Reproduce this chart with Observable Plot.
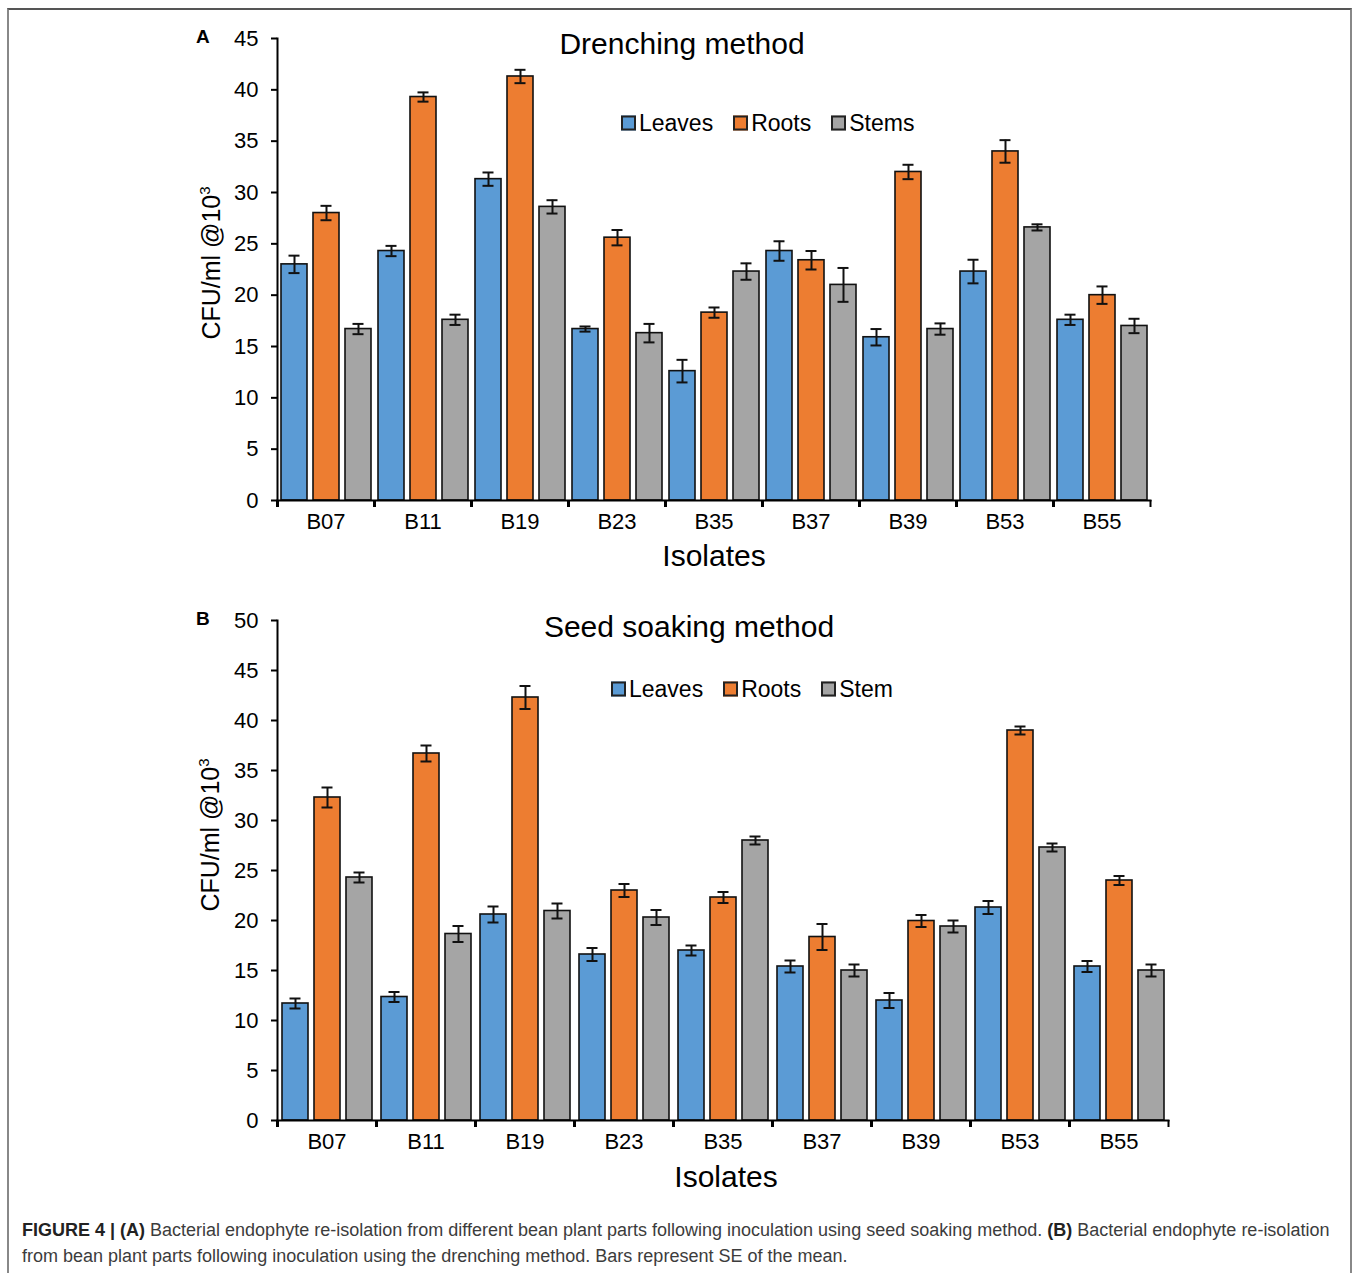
<!DOCTYPE html>
<html>
<head>
<meta charset="utf-8">
<script src="https://cdn.jsdelivr.net/npm/d3@7"></script>
<script src="https://cdn.jsdelivr.net/npm/@observablehq/plot@0.6"></script>
<style>
  html, body { margin: 0; padding: 0; background: #fff; }
  body { position: relative; width: 1357px; height: 1273px; overflow: hidden; font-family: "Liberation Sans", Arial, sans-serif; color: #000; }
  .abs { position: absolute; white-space: nowrap; }
  .c { transform: translate(-50%, -50%); }
  .frame { position: absolute; left: 7px; top: 8px; width: 1341px; height: 1290px; border-top: 2px solid #555; border-left: 2px solid #888; border-right: 2px solid #888; }
  .title { font-size: 30px; }
  .xlab { font-size: 30px; }
  .ylab { font-size: 25px; transform: translate(-50%, -50%) rotate(-90deg); }
  .ylab sup { font-size: 15px; vertical-align: 10px; line-height: 0; }
  .panel { font-size: 19px; font-weight: bold; }
  .legend { display: flex; align-items: center; gap: 20px; font-size: 23px; transform: translateY(-50%); }
  .legend .it { display: flex; align-items: center; }
  .legend .sw { display: inline-block; width: 11px; height: 11px; border: 2px solid #222; margin-right: 3px; }
  .caption { left: 22px; top: 1217px; font-size: 18px; line-height: 26px; color: #3c3c3c; }
  .caption b { color: #222; }
</style>
</head>
<body>
<div class="frame"></div>
<script>
// ---------- data ----------
const isolates = ["B07", "B11", "B19", "B23", "B35", "B37", "B39", "B53", "B55"];
const partsA = ["Leaves", "Roots", "Stems"];
const partsB = ["Leaves", "Roots", "Stem"];
const partColors = ["#5B9BD5", "#ED7D31", "#A5A5A5"];

// Panel A: Drenching method
const leavesA   = [23.0, 24.3, 31.3, 16.7, 12.6, 24.3, 15.9, 22.3, 17.6];
const leavesSeA = [0.85, 0.5, 0.65, 0.25, 1.1, 0.95, 0.8, 1.15, 0.5];
const rootsA    = [28.0, 39.3, 41.3, 25.6, 18.3, 23.4, 32.0, 34.0, 20.0];
const rootsSeA  = [0.7, 0.45, 0.65, 0.75, 0.5, 0.9, 0.7, 1.1, 0.85];
const stemsA    = [16.7, 17.6, 28.6, 16.3, 22.3, 21.0, 16.7, 26.6, 17.0];
const stemsSeA  = [0.5, 0.5, 0.65, 0.9, 0.8, 1.65, 0.55, 0.3, 0.7];

// Panel B: Seed soaking method
const leavesB   = [11.7, 12.35, 20.6, 16.6, 17.0, 15.4, 12.0, 21.3, 15.4];
const leavesSeB = [0.5, 0.5, 0.8, 0.65, 0.5, 0.6, 0.75, 0.65, 0.55];
const rootsB    = [32.3, 36.7, 42.3, 23.0, 22.3, 18.35, 19.95, 39.0, 24.0];
const rootsSeB  = [1.0, 0.8, 1.15, 0.65, 0.55, 1.3, 0.6, 0.4, 0.45];
const stemB     = [24.3, 18.65, 20.95, 20.3, 28.0, 15.0, 19.4, 27.3, 15.0];
const stemSeB   = [0.5, 0.8, 0.75, 0.75, 0.4, 0.6, 0.6, 0.4, 0.6];

const yTicksA = [0, 5, 10, 15, 20, 25, 30, 35, 40, 45];
const yTicksB = [0, 5, 10, 15, 20, 25, 30, 35, 40, 45, 50];

function table(parts, vals, ses) {
  const rows = [];
  isolates.forEach((iso, i) => {
    parts.forEach((p, j) => rows.push({isolate: iso, part: p, value: vals[j][i], se: ses[j][i]}));
  });
  return rows;
}
const dataA = table(partsA, [leavesA, rootsA, stemsA], [leavesSeA, rootsSeA, stemsSeA]);
const dataB = table(partsB, [leavesB, rootsB, stemB], [leavesSeB, rootsSeB, stemSeB]);

// ---------- chart ----------
function chart({data, parts, yMax, yTicks, height, marginTop, marginBottom, marginRight, top}) {
  const width = 1357, marginLeft = 277;
  const step = (width - marginLeft - marginRight) / isolates.length;
  const svg = Plot.plot({
    width, height, marginLeft, marginRight, marginTop, marginBottom,
    style: {fontFamily: '"Liberation Sans", Arial, sans-serif', fontSize: "22px", color: "#000", background: "transparent", overflow: "visible"},
    fx: {domain: isolates, padding: 0, label: null},
    x: {domain: parts, paddingInner: 0.19, paddingOuter: 0.1, axis: null},
    y: {domain: [0, yMax], axis: null},
    color: {domain: parts, range: partColors},
    marks: [
      Plot.barY(data, {fx: "isolate", x: "part", y: "value", fill: "part", stroke: "#111", strokeWidth: 1.6}),
      Plot.ruleX(data, {fx: "isolate", x: "part", y1: d => d.value - d.se, y2: d => d.value + d.se, stroke: "#111", strokeWidth: 2}),
      Plot.tickY(data, {fx: "isolate", x: "part", y: d => d.value + d.se, insetLeft: 7.5, insetRight: 7.5, stroke: "#111", strokeWidth: 2}),
      Plot.tickY(data, {fx: "isolate", x: "part", y: d => d.value - d.se, insetLeft: 7.5, insetRight: 7.5, stroke: "#111", strokeWidth: 2}),
      Plot.frame({anchor: "left", facet: "super", strokeWidth: 2}),
      Plot.frame({anchor: "bottom", facet: "super", strokeWidth: 2}),
      Plot.axisY({ticks: yTicks, tickSize: 6, tickPadding: 13, strokeWidth: 2, label: null, fontSize: 22}),
      Plot.axisFx({anchor: "bottom", tickSize: 0, tickPadding: 13, label: null, fontSize: 22}),
      Plot.axisFx(isolates, {anchor: "bottom", tickSize: 7, dx: -step / 2, fill: "none", strokeWidth: 2, label: null}),
      Plot.axisFx([isolates[isolates.length - 1]], {anchor: "bottom", tickSize: 7, dx: step / 2, fill: "none", strokeWidth: 2, label: null})
    ]
  });
  svg.style.position = "absolute";
  svg.style.left = "0px";
  svg.style.top = top + "px";
  document.body.appendChild(svg);
}

chart({data: dataA, parts: partsA, yMax: 45, yTicks: yTicksA, height: 590, marginTop: 38, marginBottom: 90, marginRight: 207, top: 0});
chart({data: dataB, parts: partsB, yMax: 50, yTicks: yTicksB, height: 610, marginTop: 30, marginBottom: 80, marginRight: 189, top: 590});

// ---------- text overlays ----------
function addDiv(cls, html, left, top) {
  const d = document.createElement("div");
  d.className = "abs " + cls;
  d.innerHTML = html;
  d.style.left = left + "px";
  d.style.top = top + "px";
  document.body.appendChild(d);
  return d;
}
function addLegend(parts, left, top) {
  const d = addDiv("legend", "", left, top);
  parts.forEach((p, i) => {
    const it = document.createElement("span");
    it.className = "it";
    it.innerHTML = `<span class="sw" style="background:${partColors[i]}"></span>${p}`;
    d.appendChild(it);
  });
}

addDiv("panel", "A", 196, 26);
addDiv("title c", "Drenching method", 682, 44);
addLegend(partsA, 621, 123);
addDiv("ylab", "CFU/ml @10<sup>3</sup>", 211, 263);
addDiv("xlab c", "Isolates", 714, 556);

addDiv("panel", "B", 196, 608);
addDiv("title c", "Seed soaking method", 689, 627);
addLegend(partsB, 611, 689);
addDiv("ylab", "CFU/ml @10<sup>3</sup>", 210, 835);
addDiv("xlab c", "Isolates", 726, 1177);

addDiv("caption", "<b>FIGURE 4 | (A)</b> Bacterial endophyte re-isolation from different bean plant parts following inoculation using seed soaking method. <b>(B)</b> Bacterial endophyte re-isolation<br>from bean plant parts following inoculation using the drenching method. Bars represent SE of the mean.", 22, 1217);
</script>
</body>
</html>
